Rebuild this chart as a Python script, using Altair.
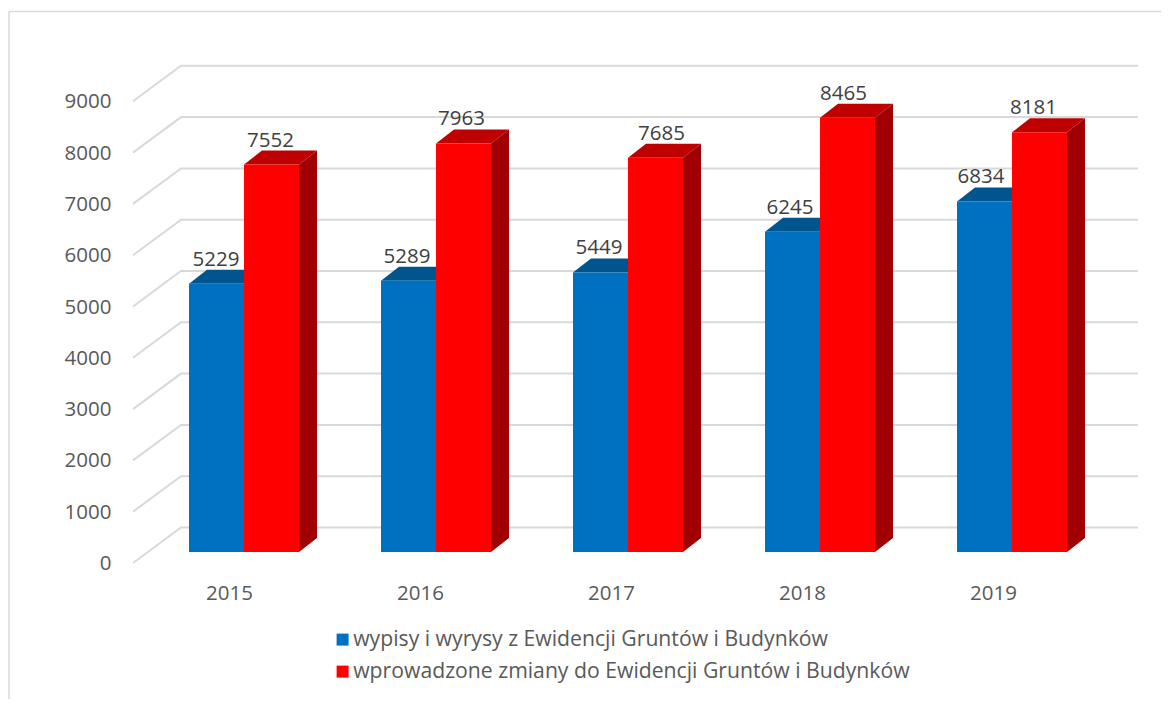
import altair as alt
import pandas as pd

years = ["2015", "2016", "2017", "2018", "2019"]
wypisy = [5229, 5289, 5449, 6245, 6834]
zmiany = [7552, 7963, 7685, 8465, 8181]
series_names = ["wypisy i wyrysy z Ewidencji Gruntów i Budynków",
                "wprowadzone zmiany do Ewidencji Gruntów i Budynków"]
y_ticks = [0, 1000, 2000, 3000, 4000, 5000, 6000, 7000, 8000, 9000]
label_nudge = [[-0.5, -1.5, -1.5, -2.5, -3.5], [-1, -2, 6, -4, -6]]

FONT = "Open Sans"
BLUE, BLUE_TOP = "#0070c0", "#00558f"
RED, RED_TOP, RED_SIDE = "#ff0000", "#bf0000", "#a00000"
GRID = "#d9d9d9"

# pseudo-3D geometry, in data units (1 x unit = one category)
BAR_W = 55 / 192
DX, DY = 18 / 192, 14 / 0.0513
WALL_X0, WALL_X1, WALL_X2 = (133 - 244) / 192, (181 - 244) / 192, (1138 - 244) / 192
FLOOR_FRONT, FLOOR_BACK = -11 / 0.0513, 24.5 / 0.0513

x_scale = alt.Scale(domain=[(8 - 244) / 192, (1161 - 244) / 192], nice=False, zero=False)
y_scale = alt.Scale(domain=[(552 - 699) / 0.0513, (552 - 8) / 0.0513], nice=False, zero=False)
X = lambda f: alt.X(f, type="quantitative", scale=x_scale, axis=None)
Y = lambda f: alt.Y(f, type="quantitative", scale=y_scale, axis=None)

bars = []
for s, (name, vals) in enumerate(zip(series_names, [wypisy, zmiany])):
    for i, v in enumerate(vals):
        left = i - BAR_W + s * BAR_W
        bars.append(dict(series=name, s=s, i=i, year=years[i], v=v, left=left,
                         right=left + BAR_W,
                         mid=left + BAR_W / 2 + label_nudge[s][i] / 192))
bars_df = pd.DataFrame(bars)

side_rows, top_rows = [], []
for b in bars:
    key = f"{b['s']}-{b['i']}"
    side_rows += [dict(key=key, s=b["s"], x=b["right"], top=b["v"], bottom=0),
                  dict(key=key, s=b["s"], x=b["right"] + DX, top=b["v"] + DY, bottom=DY)]
    top_rows += [dict(key=key, s=b["s"], y=b["v"], x=b["left"], x2=b["right"]),
                 dict(key=key, s=b["s"], y=b["v"] + DY, x=b["left"] + DX, x2=b["right"] + DX)]
side_df = pd.DataFrame(side_rows)
top_df = pd.DataFrame(top_rows)

grid_rows = []
for t in y_ticks:
    grid_rows += [dict(t=t, n=0, x=WALL_X0, y=t + FLOOR_FRONT),
                  dict(t=t, n=1, x=WALL_X1, y=t + FLOOR_BACK),
                  dict(t=t, n=2, x=WALL_X2, y=t + FLOOR_BACK)]
grid_df = pd.DataFrame(grid_rows)

grid = alt.Chart(grid_df).mark_line(color=GRID, strokeWidth=2).encode(
    x=X("x"), y=Y("y"), detail="t:N", order="n:Q")

def side(s, color):
    return alt.Chart(side_df[side_df.s == s]).mark_area(orient="vertical", color=color).encode(
        x=X("x"), y=Y("top"), y2="bottom", detail="key:N")

def top(s, color):
    return alt.Chart(top_df[top_df.s == s]).mark_area(orient="horizontal", color=color).encode(
        y=Y("y"), x=X("x"), x2="x2", detail="key:N")

fronts = alt.Chart(bars_df).mark_rect().transform_calculate(zero="0").encode(
    x=X("left"), x2="right", y=Y("v"), y2="zero:Q",
    color=alt.Color("series:N", scale=alt.Scale(domain=series_names, range=[BLUE, RED]),
                    legend=alt.Legend(title=None, orient="none", legendX=321, legendY=621,
                                      direction="vertical", columns=1, symbolType="square",
                                      symbolSize=144, symbolStrokeWidth=0, symbolOffset=3,
                                      labelFont=FONT,
                                      labelFontSize=21.2, labelColor="#595959", labelLimit=800,
                                      labelOffset=0, rowPadding=10, padding=0, offset=0)))

value_labels = alt.Chart(bars_df).mark_text(font=FONT, fontSize=20.5, color="#404040",
                                            baseline="alphabetic", dy=-18).encode(
    x=X("mid"), y=Y("v"), text="v:Q")

tick_df = pd.DataFrame({"t": y_ticks, "lx": (111.5 - 244) / 192,
                        "ly": [t + FLOOR_FRONT for t in y_ticks]})
tick_labels = alt.Chart(tick_df).mark_text(font=FONT, fontSize=20.5, color="#595959",
                                           align="right", baseline="middle", dy=1).encode(
    x=X("lx"), y=Y("ly"), text="t:Q")

year_df = pd.DataFrame({"year": years,
                        "x": [i * 191 / 192 - 14.5 / 192 for i in range(len(years))],
                        "y": -42 / 0.0513})
year_labels = alt.Chart(year_df).mark_text(font=FONT, fontSize=20.5, color="#595959",
                                           baseline="middle").encode(
    x=X("x"), y=Y("y"), text="year:N")

frame_top = alt.Chart(pd.DataFrame({"a": [0]})).mark_rule(color=GRID, strokeWidth=1.5).encode(
    x=alt.value(1), x2=alt.value(1153), y=alt.value(3.5))
frame_left = alt.Chart(pd.DataFrame({"a": [0]})).mark_rule(color=GRID, strokeWidth=1.5).encode(
    x=alt.value(1), y=alt.value(3.5), y2=alt.value(691))

chart = alt.layer(
    frame_top, frame_left, grid,
    side(0, BLUE_TOP), top(0, BLUE_TOP),
    side(1, RED_SIDE), top(1, RED_TOP),
    fronts, value_labels, tick_labels, year_labels,
).resolve_scale(x="shared", y="shared").properties(
    width=1153, height=691, padding=0, autosize="none", background="white"
).configure_view(stroke=None)

chart.save("out.html", embed_options={"renderer": "svg", "actions": False})
